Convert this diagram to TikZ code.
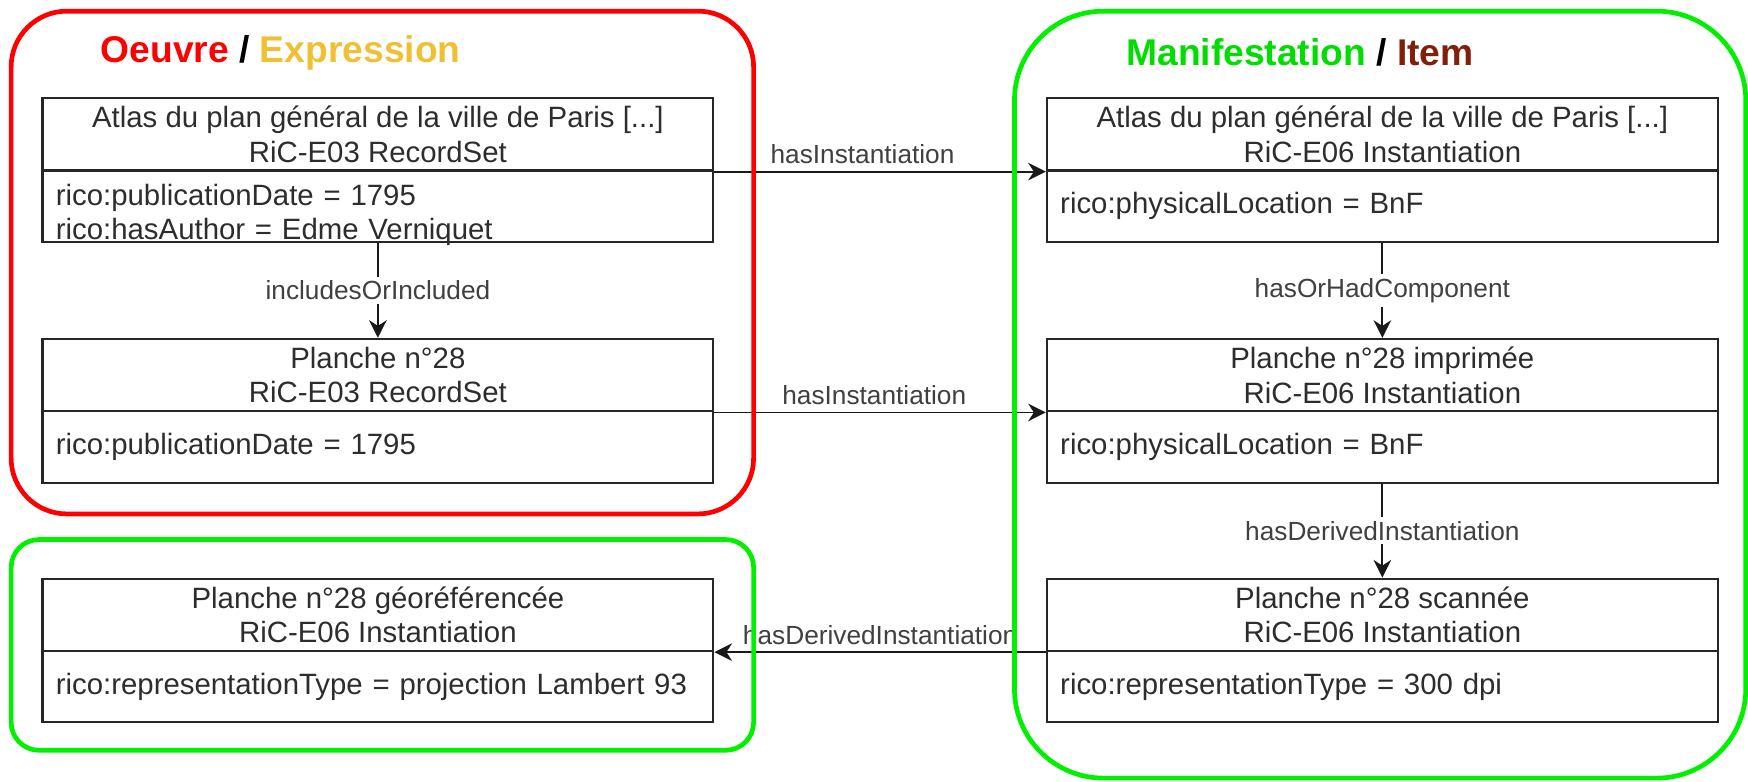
\documentclass[tikz,border=0pt]{standalone}
\usepackage{fontspec}
\setmainfont{Liberation Sans}
\usepackage{xcolor}
\usetikzlibrary{arrows.meta}
\definecolor{oeuvrered}{RGB}{255,0,0}
\definecolor{exprgold}{RGB}{240,192,52}
\definecolor{manigreen}{RGB}{0,240,0}
\definecolor{itembrown}{RGB}{128,32,8}
\definecolor{boxtext}{RGB}{45,45,45}

\tikzset{
  headbox/.style={draw=black!85, line width=1.1pt, minimum width=12.04cm,
    minimum height=1.3cm, inner sep=0pt, align=center, text=boxtext,
    font=\fontsize{15}{17.6}\selectfont},
  propbox/.style={draw=black!85, line width=1.1pt, text width=11.56cm,
    inner xsep=0.24cm, inner ysep=0pt, minimum height=1.28cm, align=left,
    text=boxtext, font=\fontsize{15}{17.6}\selectfont},
  rel/.style={draw=black!90, line width=0.9pt, -{Stealth[length=9pt,width=9pt]}},
  rellabel/.style={font=\fontsize{13.4}{16}\selectfont, text=black!75},
  grouptitle/.style={font=\fontsize{19}{22}\selectfont\bfseries, anchor=west, inner sep=0pt}
}

\begin{document}
\begin{tikzpicture}[x=0.02cm, y=-0.02cm]
  \useasboundingbox (0,0) rectangle (1568,701);

  % group titles
  \node[grouptitle] (titleoe) at (90,47) {\textcolor{oeuvrered}{Oeuvre} / \textcolor{exprgold}{Expression}};
  \node[grouptitle] (titlemi) at (1010,47) {\textcolor{manigreen!92!black}{Manifestation} / \textcolor{itembrown}{Item}};

  % oeuvre / expression
  \node[headbox] (atlas) at (339,120.5) {Atlas du plan général de la ville de Paris [...]\\RiC-E03 RecordSet};
  \node[propbox] (atlasp) at (339,185) {\raisebox{-8.3pt}[0pt][0pt]{\begin{tabular}{@{}l@{}}rico:publicationDate = 1795\\rico:hasAuthor = Edme Verniquet\end{tabular}}};
  \node[headbox] (pl) at (339,336.5) {Planche n°28\\RiC-E03 RecordSet};
  \node[propbox] (plp) at (339,401) {rico:publicationDate = 1795};

  % manifestation / item
  \node[headbox] (atlasi) at (1240,120.5) {Atlas du plan général de la ville de Paris [...]\\RiC-E06 Instantiation};
  \node[propbox] (atlasip) at (1240,185) {rico:physicalLocation = BnF};
  \node[headbox] (plimp) at (1240,336.5) {Planche n°28 imprimée\\RiC-E06 Instantiation};
  \node[propbox] (plimpp) at (1240,401) {rico:physicalLocation = BnF};
  \node[headbox] (plscan) at (1240,551.5) {Planche n°28 scannée\\RiC-E06 Instantiation};
  \node[propbox] (plscanp) at (1240,616) {rico:representationType = 300 dpi};

  % derived
  \node[headbox] (plgeo) at (339,551.5) {Planche n°28 géoréférencée\\RiC-E06 Instantiation};
  \node[propbox] (plgeop) at (339,616) {rico:representationType = projection Lambert 93};

  % relations
  \draw[rel] (atlas.south east) -- node[rellabel, above, xshift=-9pt] {hasInstantiation} (atlasi.south west);
  \draw[rel] (pl.south east) -- node[rellabel, above, xshift=-3pt] {hasInstantiation} (plimp.south west);
  \draw[rel] (atlasp.south) -- node[rellabel, fill=white, inner sep=2pt] {includesOrIncluded} (pl.north);
  \draw[rel] (atlasip.south) -- node[rellabel, fill=white, inner sep=2pt] {hasOrHadComponent} (plimp.north);
  \draw[rel] (plimpp.south) -- node[rellabel, fill=white, inner sep=2pt] {hasDerivedInstantiation} (plscan.north);
  \draw[rel] (plscan.south west) -- node[rellabel, above] {hasDerivedInstantiation} (plgeo.south east);

  % frames
  \draw[oeuvrered, line width=2.4pt, rounded corners=1cm] (10,10) rectangle (676,461);
  \draw[manigreen, line width=2.4pt, rounded corners=1.6cm] (910,10) rectangle (1566,698);
  \draw[manigreen, line width=2.4pt, rounded corners=0.5cm] (10,484) rectangle (676,673);
\end{tikzpicture}
\end{document}
